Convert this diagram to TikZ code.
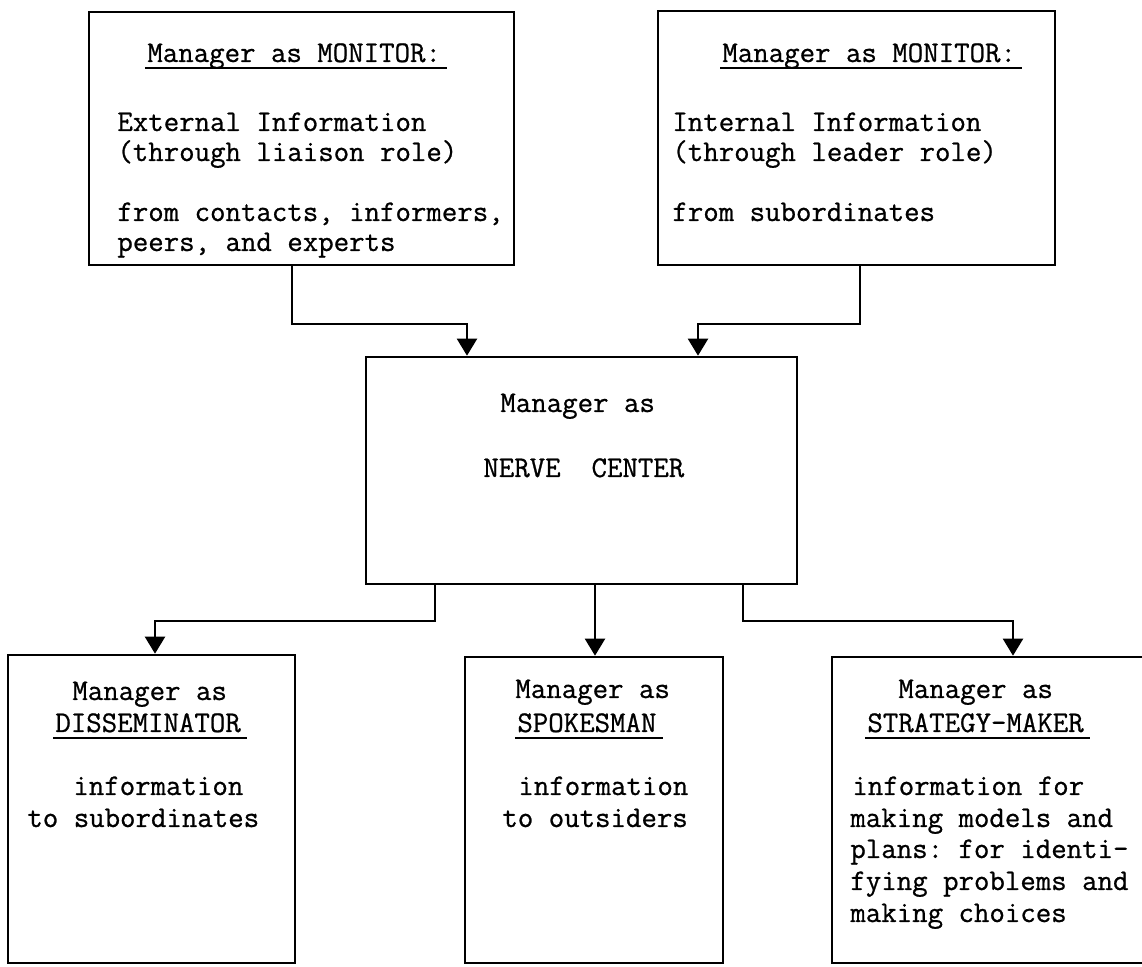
\documentclass[tikz,border=0pt]{standalone}
\usepackage{fontspec}
\setmonofont{Latin Modern Mono}[FakeBold=0.8]
\usetikzlibrary{arrows.meta,fit}
\begin{document}
\begin{tikzpicture}[x=0.5pt,y=-0.5pt,
  box/.style={draw,line width=1.3pt,inner sep=0pt},
  txt/.style={anchor=base west,inner sep=0pt,font=\ttfamily\fontsize{15}{18}\selectfont},
  conn/.style={line width=1.1pt,-{Triangle[width=10pt,length=8.5pt]}},
  uline/.style={line width=0.9pt}]
\useasboundingbox (0,0) rectangle (1142,967);
\clip (0,0) rectangle (1142,967);

% role boxes
\node[box,fit={(89,12) (514,265)}] (mon1) {};
\node[box,fit={(658,11) (1055,265)}] (mon2) {};
\node[box,fit={(366,357) (797,584)}] (nerve) {};
\node[box,fit={(8,655) (295,963)}] (dis) {};
\node[box,fit={(465,657) (723,963)}] (spk) {};
\node[box,fit={(832,657) (1150,963)}] (str) {};

% monitor: external information
\node[txt] (m1a) at (147,62) {Manager as MONITOR:};
\node[txt] (m1b) at (117,131) {External Information};
\node[txt] (m1c) at (117,161) {(through liaison role)};
\node[txt] (m1d) at (117,221) {from contacts, informers,};
\node[txt] (m1e) at (117,251) {peers, and experts};

% monitor: internal information
\node[txt] (m2a) at (722,62) {Manager as MONITOR:};
\node[txt] (m2b) at (672,131) {Internal Information};
\node[txt] (m2c) at (672,161) {(through leader role)};
\node[txt] (m2d) at (672,221) {from subordinates};

% nerve center
\node[txt] (n1) at (500,412) {Manager as};
\node[txt] (n2) at (483,477) {NERVE\ \ CENTER};

% disseminator
\node[txt] (d1) at (72,700) {Manager as};
\node[txt] (d2) at (55,732) {DISSEMINATOR};
\node[txt] (d3) at (73,795) {information};
\node[txt] (d4) at (27,827) {to subordinates};

% spokesman
\node[txt] (s1) at (515,698) {Manager as};
\node[txt] (s2) at (517,732) {SPOKESMAN};
\node[txt] (s3) at (518,795) {information};
\node[txt] (s4) at (502,827) {to outsiders};

% strategy-maker
\node[txt] (r1) at (898,698) {Manager as};
\node[txt] (r2) at (867,732) {STRATEGY-MAKER};
\node[txt] (r3) at (852,795) {information for};
\node[txt] (r4) at (850,827) {making models and};
\node[txt] (r5) at (850,858) {plans: for identi-};
\node[txt] (r6) at (850,890) {fying problems and};
\node[txt] (r7) at (850,922) {making choices};

% underlined headings
\foreach \t in {m1a,m2a,d2,s2,r2}
  \draw[uline] ([xshift=-1pt,yshift=-3.2pt]\t.base west) -- ([xshift=3pt,yshift=-3.2pt]\t.base east);

% information flow
\draw[conn] (mon1.south -| 292,0) -- ++(0,58) -| (nerve.north -| 467,0);
\draw[conn] (mon2.south -| 860,0) -- ++(0,58) -| (nerve.north -| 698,0);
\draw[conn] (nerve.south -| 435,0) -- ++(0,36) -| (dis.north -| 155,0);
\draw[conn] (nerve.south -| 595,0) -- (spk.north -| 595,0);
\draw[conn] (nerve.south -| 743,0) -- ++(0,36) -| (str.north -| 1013,0);
\end{tikzpicture}
\end{document}
